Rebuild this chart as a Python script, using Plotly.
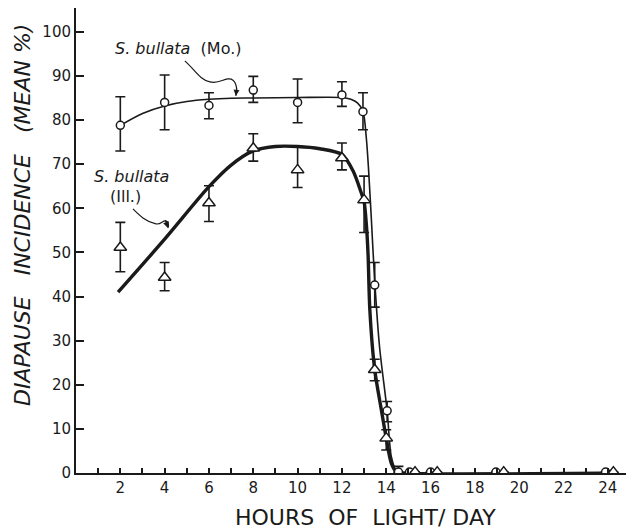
import plotly.graph_objects as go

# ---------------- data ----------------
# S. bullata (Mo.) - open circles
mo_hours = [2, 4, 6, 8, 10, 12, 12.95, 13.48, 14.04, 14.55, 15.05, 16.0, 18.95, 23.9]
mo_mean = [78.8, 84.0, 83.3, 86.8, 84.0, 85.7, 81.9, 42.6, 14.1, 0.2, 0.2, 0.2, 0.2, 0.2]
mo_err_plus = [6.5, 6.2, 2.9, 3.1, 5.3, 3.0, 4.3, 5.1, 2.1, 1.3, None, None, None, None]
mo_err_minus = [5.8, 6.2, 3.0, 2.8, 4.6, 2.6, 4.1, 5.0, 2.5, 0.0, None, None, None, None]

# S. bullata (Ill.) - open triangles
ill_hours = [2, 4, 6, 8, 10, 12, 13.0, 13.48, 14.0, 15.3, 16.3, 19.3, 24.25]
ill_mean = [51.1, 44.3, 61.2, 73.6, 68.7, 71.4, 61.9, 23.4, 7.9, 0.2, 0.2, 0.2, 0.2]
ill_err_plus = [5.7, 3.4, 3.9, 3.3, 5.3, 3.4, 5.4, 2.4, 1.9, None, None, None, None]
ill_err_minus = [5.5, 3.0, 4.2, 2.9, 4.0, 2.7, 7.4, 2.5, 2.7, None, None, None, None]

# fitted curves (as drawn)
mo_curve_x = [2, 3, 4, 5, 6, 7, 8, 10, 12, 12.4, 12.7, 12.95, 13.1, 13.2, 13.33,
              13.48, 13.7, 14.04, 14.23, 14.46, 14.7, 24.4]
mo_curve_y = [78.8, 81.5, 83.2, 84.2, 84.7, 84.95, 85.0, 85.1, 85.1, 84.7, 83.9, 82.0,
              76.0, 69.0, 57.4, 43.5, 28.5, 14.1, 3.7, 0.5, 0, 0]

ill_curve_x = [1.9, 4, 6, 7, 8, 9, 10, 11, 12, 12.5, 12.88, 13.0, 13.1, 13.18, 13.26,
               13.48, 13.78, 14.0, 14.23, 14.46, 14.7, 24.4]
ill_curve_y = [41.0, 53.0, 64.9, 69.8, 73.0, 74.0, 74.0, 73.5, 72.2, 68.5, 63.4, 61.5,
               56.5, 49.5, 37.0, 23.4, 14.3, 7.9, 2.2, 0.3, 0, 0]

x_ticks = list(range(1, 25))
x_tick_text = [str(v) if v % 2 == 0 else "" for v in x_ticks]
y_ticks = list(range(0, 101, 10))

INK = "#1a1a1a"
FONT = "DejaVu Sans"

fig = go.Figure()

fig.add_trace(go.Scatter(x=mo_curve_x, y=mo_curve_y, mode="lines",
                         line=dict(color=INK, width=1.6, shape="spline", smoothing=0.8),
                         hoverinfo="skip", showlegend=False))
fig.add_trace(go.Scatter(x=ill_curve_x, y=ill_curve_y, mode="lines",
                         line=dict(color=INK, width=3.4, shape="spline", smoothing=0.8),
                         hoverinfo="skip", showlegend=False))

fig.add_trace(go.Scatter(
    x=mo_hours, y=mo_mean, mode="markers", showlegend=False,
    marker=dict(symbol="circle", size=8, color="white", line=dict(color=INK, width=1.5)),
    error_y=dict(type="data", symmetric=False, array=mo_err_plus, arrayminus=mo_err_minus,
                 color=INK, thickness=1.6, width=5)))

fig.add_trace(go.Scatter(
    x=ill_hours, y=ill_mean, mode="markers", showlegend=False,
    marker=dict(symbol="triangle-up", size=11, color="white", line=dict(color=INK, width=1.5)),
    error_y=dict(type="data", symmetric=False, array=ill_err_plus, arrayminus=ill_err_minus,
                 color=INK, thickness=1.6, width=5)))

NB = "\u00a0"

# plot area in page pixels (page body has an 8px margin): left 76, right 630, top 8, bottom 473
PH = 465.0
PW = 554.0

annotations = [
    dict(x=1.67, y=96.3, xref="x", yref="y", xanchor="left", yanchor="middle",
         text="<i>S." + NB + "bullata</i>" + NB * 2 + "(Mo.)", showarrow=False,
         font=dict(family=FONT, size=16, color=INK)),
    dict(x=0.71, y=67.1, xref="x", yref="y", xanchor="left", yanchor="middle",
         text="<i>S." + NB + "bullata</i>", showarrow=False,
         font=dict(family=FONT, size=16, color=INK)),
    dict(x=1.44, y=62.7, xref="x", yref="y", xanchor="left", yanchor="middle",
         text="(Ill.)", showarrow=False,
         font=dict(family=FONT, size=16, color=INK)),
    # arrowheads
    dict(x=7.214, y=85.49, xref="x", yref="y", text="", showarrow=True, ax=1, ay=-9,
         arrowhead=2, arrowsize=1, arrowwidth=1.2, arrowcolor=INK),
    dict(x=4.148, y=55.56, xref="x", yref="y", text="", showarrow=True, ax=-3, ay=-9,
         arrowhead=2, arrowsize=1, arrowwidth=1.2, arrowcolor=INK),
    # axis titles
    dict(x=(365 - 76) / PW, y=-(517 - 473) / PH, xref="paper", yref="paper",
         xanchor="center", yanchor="middle", showarrow=False,
         text="HOURS" + NB * 2 + "OF" + NB * 2 + "LIGHT/" + NB + "DAY",
         font=dict(family=FONT, size=22, color=INK)),
    dict(x=(22 - 76) / PW, y=(473 - 215) / PH, xref="paper", yref="paper",
         xanchor="center", yanchor="middle", showarrow=False, textangle=-90,
         text="<i>DIAPAUSE" + NB * 3 + "INCIDENCE" + NB * 3 + "(MEAN" + NB + "%)</i>",
         font=dict(family=FONT, size=22, color=INK)),
]

shapes = [
    dict(type="path", xref="x", yref="y",
         path="M4.914,93.42 C5.365,91.38 5.591,89.12 6.041,88.66 "
              "C6.402,88.21 6.583,89.12 6.853,89.34 "
              "C7.214,89.57 7.304,87.30 7.214,85.49",
         line=dict(color=INK, width=1.2)),
    dict(type="path", xref="x", yref="y",
         path="M2.570,59.86 C2.885,58.28 3.156,56.92 3.607,56.46 "
              "C3.832,56.24 3.922,57.37 4.058,57.14 "
              "C4.193,56.92 4.193,56.01 4.148,55.56",
         line=dict(color=INK, width=1.2)),
]

fig.update_layout(
    width=626, height=521,
    margin=dict(l=68, r=4, t=0, b=56, pad=0),
    paper_bgcolor="white", plot_bgcolor="white",
    font=dict(family=FONT, size=15, color=INK),
    annotations=annotations, shapes=shapes,
    xaxis=dict(range=[0, 25], showline=True, linewidth=2, linecolor=INK,
               ticks="inside", ticklen=5, tickwidth=1.5, tickcolor=INK,
               tickvals=x_ticks, ticktext=x_tick_text,
               showgrid=False, zeroline=False, tickfont=dict(size=15)),
    yaxis=dict(range=[0, 105.4], showline=True, linewidth=2, linecolor=INK,
               ticks="inside", ticklen=8, tickwidth=1.5, tickcolor=INK,
               tickvals=y_ticks, showgrid=False, zeroline=False,
               tickfont=dict(size=15)),
)

fig.write_html("out.html")
